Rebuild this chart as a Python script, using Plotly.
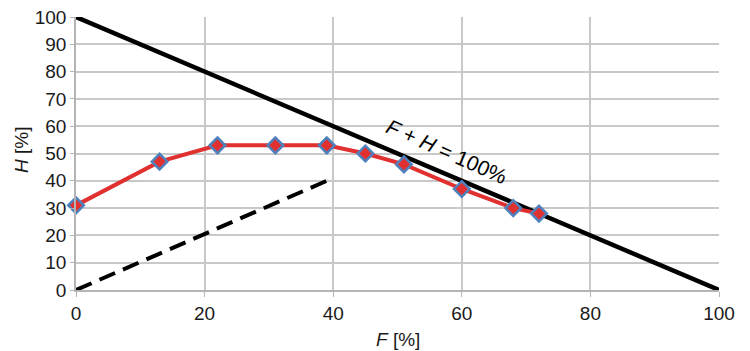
import plotly.graph_objects as go

curve_f = [0, 13, 22, 31, 39, 45, 51, 60, 68, 72]
curve_h = [31, 47, 53, 53, 53, 50, 46, 37, 30, 28]
diag_f = [0, 39]
diag_h = [0, 40]
limit_f = [0, 100]
limit_h = [100, 0]
x_ticks = [0, 20, 40, 60, 80, 100]
y_ticks = [0, 10, 20, 30, 40, 50, 60, 70, 80, 90, 100]

FONT = "Liberation Sans"
fig = go.Figure()
fig.add_trace(go.Scatter(x=limit_f, y=limit_h, mode="lines",
                         line=dict(color="black", width=4.5), cliponaxis=False))
fig.add_trace(go.Scatter(x=diag_f, y=diag_h, mode="lines",
                         line=dict(color="black", width=4, dash="17px,8.6px"), cliponaxis=False))
fig.add_trace(go.Scatter(x=curve_f, y=curve_h, mode="lines+markers",
                         line=dict(color="#e03030", width=4),
                         marker=dict(symbol="diamond", size=12, color="#e03030",
                                     line=dict(color="#4f81bd", width=2.5)),
                         cliponaxis=False))

fig.add_annotation(x=57.7, y=50.8, text="<i>F</i> + <i>H</i> = 100%", showarrow=False,
                   textangle=24, font=dict(size=21, color="black", family=FONT))
fig.add_annotation(xref="paper", yref="paper", x=0.5, y=-0.183, yanchor="middle",
                   text="<i>F</i> [%]", showarrow=False,
                   font=dict(size=19, color="#1a1a1a", family=FONT))
fig.add_annotation(xref="paper", yref="paper", x=-0.084, y=0.513, xanchor="center",
                   yanchor="middle", textangle=-90,
                   text="<i>H</i> [%]", showarrow=False,
                   font=dict(size=19, color="#1a1a1a", family=FONT))

fig.update_layout(
    width=742, height=343,
    margin=dict(l=68, r=31, t=9, b=61),
    plot_bgcolor="white", paper_bgcolor="white",
    showlegend=False,
    font=dict(family=FONT, size=19, color="#1a1a1a"),
    xaxis=dict(range=[0, 100], tickvals=x_ticks, showgrid=True, gridcolor="#c8c8c8",
               gridwidth=1.5, showline=True, linecolor="#b4b4b4", linewidth=1.5,
               ticks="outside", ticklen=5, tickcolor="#b4b4b4", zeroline=False,
               automargin=False, ticklabeloverflow="allow"),
    yaxis=dict(range=[0, 100], tickvals=y_ticks, showgrid=True, gridcolor="#c8c8c8",
               gridwidth=1.5, showline=True, linecolor="#b4b4b4", linewidth=1.5,
               ticks="outside", ticklen=4, tickcolor="#b4b4b4", zeroline=False,
               automargin=False, ticklabeloverflow="allow"),
)

fig.write_html("out.html")
